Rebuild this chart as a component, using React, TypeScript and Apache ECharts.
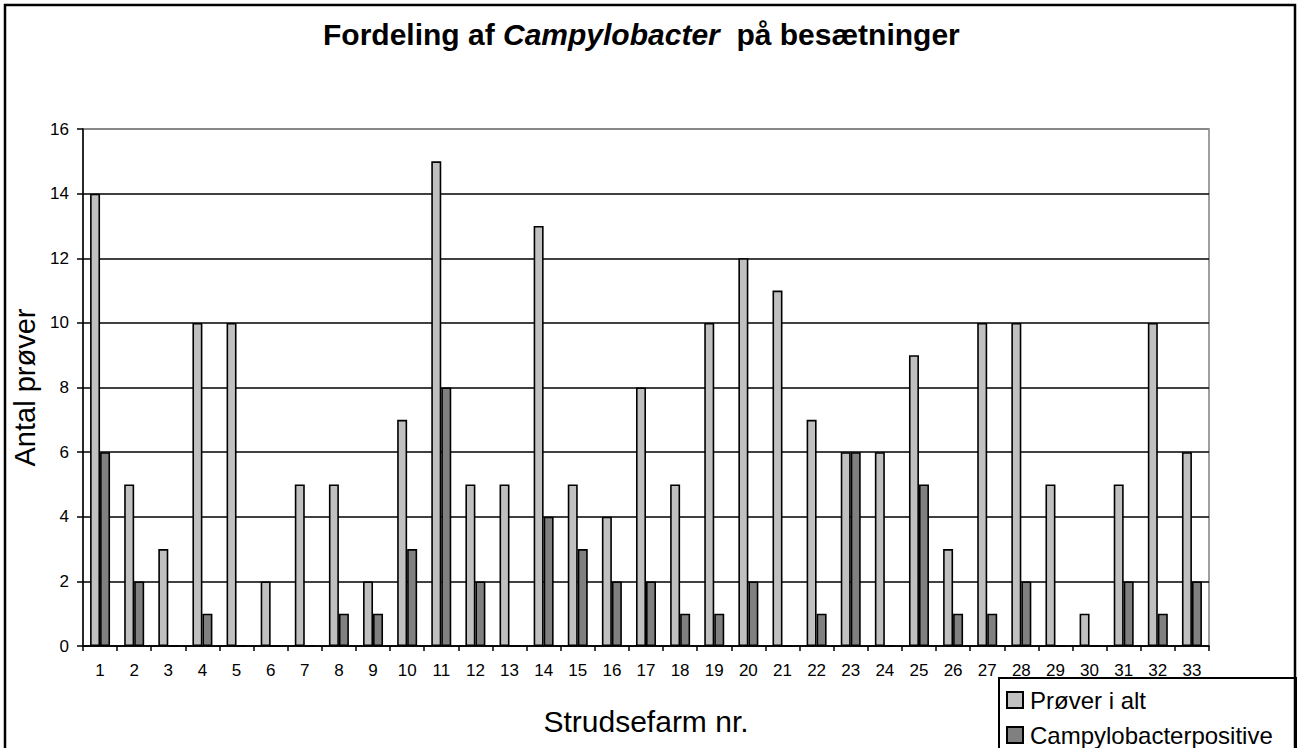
import React, { useEffect, useRef } from "react";
import * as echarts from "echarts";

const categories: string[] = Array.from({ length: 33 }, (_, i) => String(i + 1));
const proverIAlt: number[] = [14, 5, 3, 10, 10, 2, 5, 5, 2, 7, 15, 5, 5, 13, 5, 4, 8, 5, 10, 12, 11, 7, 6, 6, 9, 3, 10, 10, 5, 1, 5, 10, 6];
const campyPositive: number[] = [6, 2, 0, 1, 0, 0, 0, 1, 1, 3, 8, 2, 0, 4, 3, 2, 2, 1, 1, 2, 0, 1, 6, 0, 5, 1, 1, 2, 0, 0, 2, 1, 2];
const seriesNames: string[] = ["Prøver i alt", "Campylobacterpositive"];
const titleParts: string[] = ["Fordeling af ", "Campylobacter", "  på besætninger"];
const yAxisName = "Antal prøver";
const xAxisName = "Strudsefarm nr.";

const FONT = "'Liberation Sans', Arial, sans-serif";

export default function App() {
  const ref = useRef<HTMLDivElement>(null);
  useEffect(() => {
    document.body.style.margin = "0";
    if (!ref.current) return;
    const chart = echarts.init(ref.current, undefined, { renderer: "svg" });
    const splitColors = ["#000", "#000", "#000", "#000", "#000", "#000", "#000", "#000", "#808080"];
    chart.setOption({
      animation: false,
      backgroundColor: "#fff",
      textStyle: { fontFamily: FONT, color: "#000" },
      title: {
        text: `{n|${titleParts[0]}}{i|${titleParts[1]}}{n|${titleParts[2]}}`,
        left: 318,
        top: 14,
        textStyle: {
          fontFamily: FONT,
          rich: {
            n: { fontFamily: FONT, fontSize: 30, fontWeight: "bold", color: "#000" },
            i: { fontFamily: FONT, fontSize: 30, fontWeight: "bold", fontStyle: "italic", color: "#000" },
          },
        },
      },
      grid: {
        left: 83,
        right: 89,
        top: 129,
        bottom: 102,
        show: true,
        borderColor: "#808080",
        borderWidth: 1.5,
        containLabel: false,
      },
      xAxis: {
        type: "category",
        data: categories,
        name: xAxisName,
        nameLocation: "middle",
        nameGap: 60,
        nameTextStyle: { fontFamily: FONT, fontSize: 30, color: "#000" },
        axisLine: { lineStyle: { color: "#000", width: 1.5 } },
        axisTick: { show: true, length: 5, lineStyle: { color: "#000", width: 1.5 } },
        axisLabel: { interval: 0, fontFamily: FONT, fontSize: 17, color: "#000", margin: 16 },
        splitLine: { show: false },
      },
      yAxis: {
        type: "value",
        min: 0,
        max: 16,
        interval: 2,
        name: yAxisName,
        nameLocation: "middle",
        nameGap: 33,
        nameTextStyle: { fontFamily: FONT, fontSize: 29, color: "#000" },
        axisLine: { show: true, lineStyle: { color: "#000", width: 1.5 } },
        axisTick: { show: true, length: 6, lineStyle: { color: "#000", width: 1.5 } },
        axisLabel: { fontFamily: FONT, fontSize: 17, color: "#000", margin: 14 },
        splitLine: { show: true, lineStyle: { color: splitColors, width: 1.5 } },
      },
      legend: {
        orient: "vertical",
        left: 1001,
        top: 683,
        height: 200,
        z: 20,
        itemWidth: 16,
        itemHeight: 16,
        itemGap: 11,
        icon: "rect",
        data: seriesNames,
        textStyle: { fontFamily: FONT, fontSize: 24, color: "#000", padding: [0, 0, 0, 2] },
      },
      graphic: [
        {
          type: "rect",
          z: 10,
          shape: { x: 999, y: 678, width: 297, height: 90 },
          style: { fill: "#fff", stroke: "#000", lineWidth: 2 },
        },
        {
          type: "rect",
          z: 30,
          shape: { x: 5, y: 5, width: 1290, height: 800 },
          style: { fill: "none", stroke: "#000", lineWidth: 2.5 },
        },
      ],
      series: [
        {
          name: seriesNames[0],
          type: "bar",
          data: proverIAlt,
          barWidth: 10,
          barGap: "0%",
          itemStyle: { color: "#c0c0c0", borderColor: "#000", borderWidth: 1.6 },
        },
        {
          name: seriesNames[1],
          type: "bar",
          data: campyPositive,
          barWidth: 10,
          barGap: "0%",
          itemStyle: { color: "#808080", borderColor: "#000", borderWidth: 1.6 },
        },
      ],
    });
    return () => chart.dispose();
  }, []);
  return <div ref={ref} style={{ width: 1298, height: 748 }} />;
}
